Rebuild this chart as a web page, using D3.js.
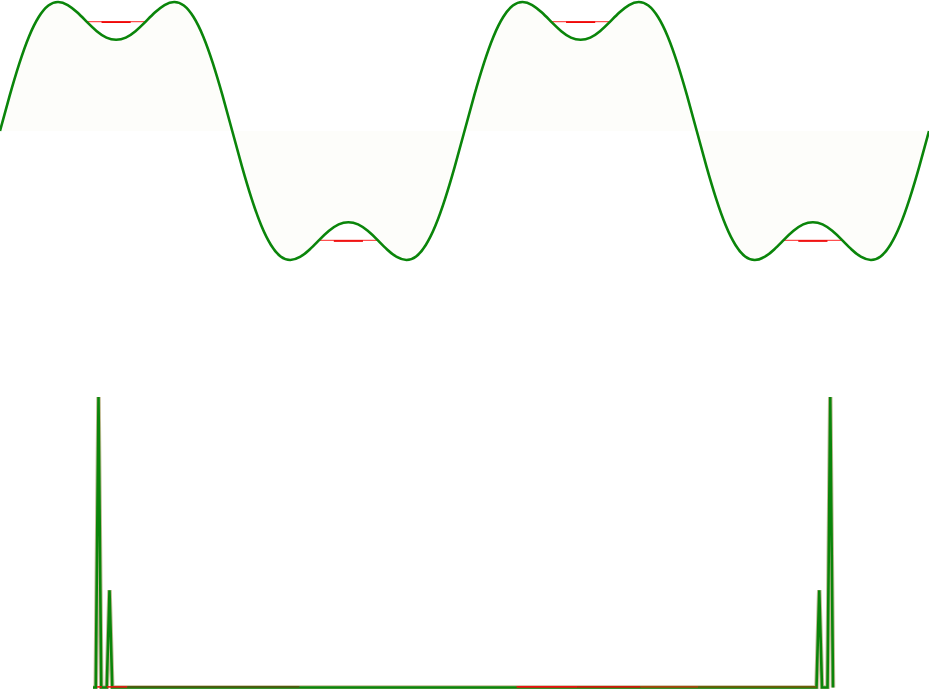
<!DOCTYPE html>
<html>
<head>
<meta charset="utf-8">
<script src="https://cdn.jsdelivr.net/npm/d3@7"></script>
<style>
  html, body { margin: 0; padding: 0; background: #ffffff; }
  svg { display: block; }
</style>
</head>
<body>
<svg id="chart" width="929" height="689"></svg>
<script>
// ---------------- DATA ----------------
// Top panel: waveform sampled every 7.5 degrees over two periods (0..720 deg)
const sampleStepDeg = 7.5;
const signalValues = [
  0, 0.258, 0.494, 0.691, 0.833, 0.917, 0.943, 0.921, 0.866, 0.796, 0.730, 0.683,
  0.667, 0.683, 0.730, 0.796, 0.866, 0.921, 0.943, 0.917, 0.833, 0.691, 0.494, 0.258,
  0, -0.258, -0.494, -0.691, -0.833, -0.917, -0.943, -0.921, -0.866, -0.796, -0.730, -0.683,
  -0.667, -0.683, -0.730, -0.796, -0.866, -0.921, -0.943, -0.917, -0.833, -0.691, -0.494, -0.258,
  0, 0.258, 0.494, 0.691, 0.833, 0.917, 0.943, 0.921, 0.866, 0.796, 0.730, 0.683,
  0.667, 0.683, 0.730, 0.796, 0.866, 0.921, 0.943, 0.917, 0.833, 0.691, 0.494, 0.258,
  0, -0.258, -0.494, -0.691, -0.833, -0.917, -0.943, -0.921, -0.866, -0.796, -0.730, -0.683,
  -0.667, -0.683, -0.730, -0.796, -0.866, -0.921, -0.943, -0.917, -0.833, -0.691, -0.494, -0.258,
  0
];
// Red level segments bridging the dips (start deg, end deg, level)
const levelStart = [66.7, 246.7, 426.7, 606.7];
const levelEnd   = [113.3, 293.3, 473.3, 653.3];
const levelValue = [0.8, -0.8, 0.8, -0.8];

// Bottom panel: magnitude spectrum
const nBins = 270;
const peakBins = [2, 6, 264, 268];
const peakMags = [1.0, 0.335, 0.335, 1.0];
// coloured baseline pieces (bin ranges)
const baseFrom  = [1.5, 5, 12.5, 154, 176, 199, 220];
const baseTo    = [3.2, 12.5, 75, 176, 199, 220, 263];
const baseColor = ["#ee1111", "#ee1111", "#4f5a10", "#ee1111", "#d01a0a", "#a8460e", "#6b5e08"];

// ---------------- DRAW ----------------
const svg = d3.select("#chart");
const W = 929;

// Top panel
const xTop = d3.scaleLinear().domain([0, 720]).range([0, W]);
const yTop = d3.scaleLinear().domain([-1, 1]).range([267.8, -5.8]);
const sig = signalValues.map((v, i) => ({ t: i * sampleStepDeg, v }));
const curve = d3.curveNatural;
const levels = levelStart.map((s, i) => ({ s, e: levelEnd[i], v: levelValue[i] }));

const gTop = svg.append("g").attr("class", "top");

// faint fill between curve and zero
gTop.append("path")
  .datum(sig)
  .attr("d", d3.area().x(d => xTop(d.t)).y0(yTop(0)).y1(d => yTop(d.v)).curve(curve))
  .attr("fill", "#fdfdfa");

// red level segments across the dips
gTop.selectAll("line.level")
  .data(levels)
  .join("line")
  .attr("class", "level")
  .attr("x1", d => xTop(d.s)).attr("x2", d => xTop(d.e))
  .attr("y1", d => yTop(d.v)).attr("y2", d => yTop(d.v))
  .attr("stroke", "#ff5050").attr("stroke-width", 1.2);
gTop.selectAll("line.levelCore")
  .data(levels)
  .join("line")
  .attr("class", "levelCore")
  .attr("x1", d => xTop(d.s + 12)).attr("x2", d => xTop(d.e - 12))
  .attr("y1", d => yTop(d.v) + (d.v > 0 ? 0.6 : 0.6)).attr("y2", d => yTop(d.v) + 0.6)
  .attr("stroke", "#ee0000").attr("stroke-width", 1.6);

// green waveform
gTop.append("path")
  .datum(sig)
  .attr("d", d3.line().x(d => xTop(d.t)).y(d => yTop(d.v)).curve(curve))
  .attr("fill", "none")
  .attr("stroke", "#0a850a")
  .attr("stroke-width", 2.6);

// Bottom panel
const xBot = d3.scaleLinear().domain([0, nBins - 1]).range([93, 833]);
const yBot = d3.scaleLinear().domain([0, 1]).range([687.5, 397]);
const spec = d3.range(nBins).map(k => {
  const j = peakBins.indexOf(k);
  return { k, m: j >= 0 ? peakMags[j] : 0 };
});
const specLine = d3.line().x(d => xBot(d.k)).y(d => yBot(d.m));

const gBot = svg.append("g").attr("class", "bottom");
gBot.append("path").datum(spec).attr("d", specLine)
  .attr("fill", "none").attr("stroke", "#8a7a30").attr("stroke-opacity", 0.5)
  .attr("stroke-width", 4.5).attr("stroke-linejoin", "miter");
gBot.append("path").datum(spec).attr("d", specLine)
  .attr("fill", "none").attr("stroke", "#0a850a")
  .attr("stroke-width", 2.6).attr("stroke-linejoin", "miter");

gBot.selectAll("line.base")
  .data(baseFrom.map((f, i) => ({ f, t: baseTo[i], c: baseColor[i] })))
  .join("line")
  .attr("class", "base")
  .attr("x1", d => xBot(d.f)).attr("x2", d => xBot(d.t))
  .attr("y1", yBot(0) - 0.6).attr("y2", yBot(0) - 0.6)
  .attr("stroke", d => d.c).attr("stroke-width", 1.6);
</script>
</body>
</html>
